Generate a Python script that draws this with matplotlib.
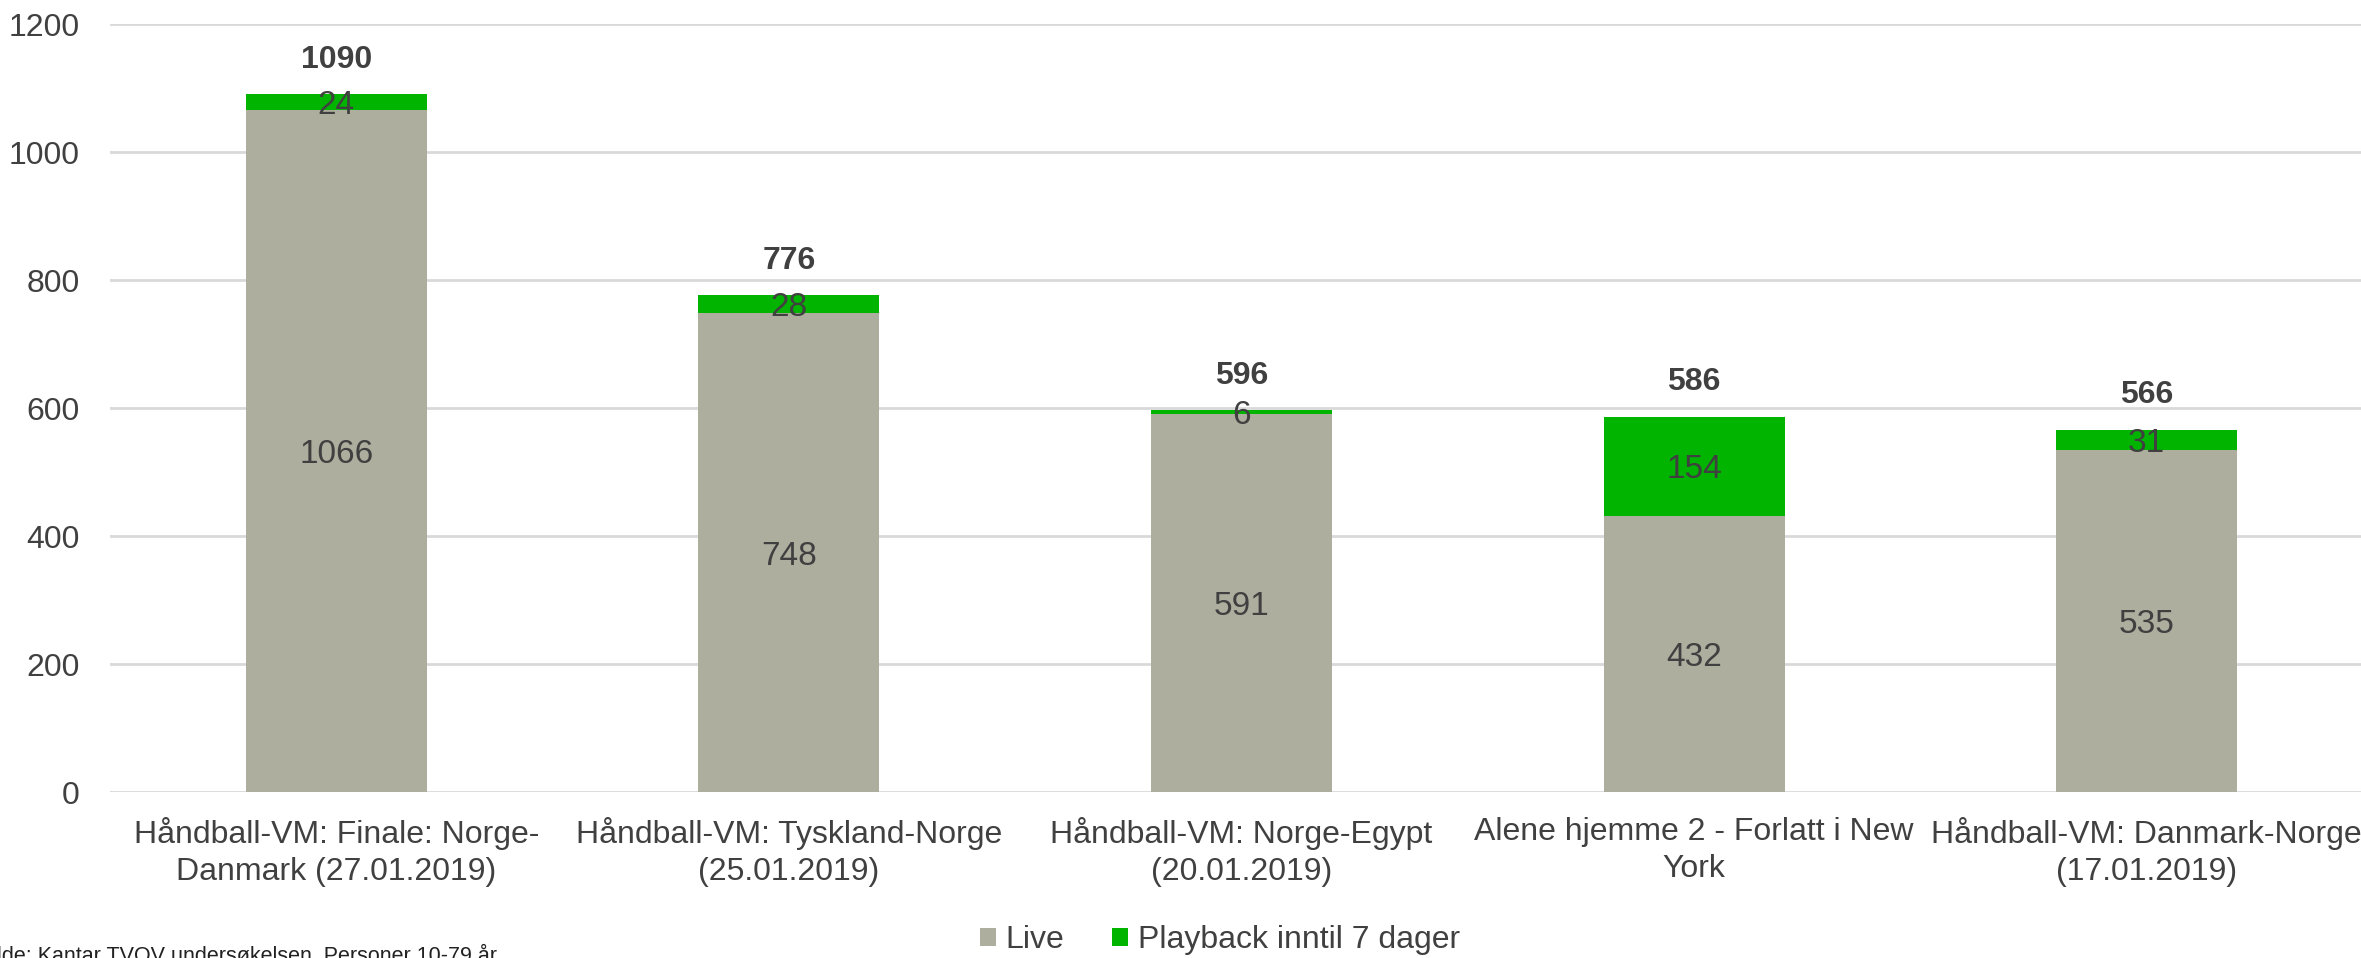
"""Stacked bar chart: Live + playback viewers."""
import matplotlib
matplotlib.use("Agg")
import matplotlib.pyplot as plt
import numpy as np

categories = [
    "Håndball-VM: Finale: Norge-\nDanmark (27.01.2019)",
    "Håndball-VM: Tyskland-Norge\n(25.01.2019)",
    "Håndball-VM: Norge-Egypt\n(20.01.2019)",
    "Alene hjemme 2 - Forlatt i New\nYork",
    "Håndball-VM: Danmark-Norge\n(17.01.2019)",
]
live = [1066, 748, 591, 432, 535]
playback = [24, 28, 6, 154, 31]
totals = [1090, 776, 596, 586, 566]
yticks = [0, 200, 400, 600, 800, 1000, 1200]

GRAY = "#ADAE9E"
GREEN = "#00B400"
TEXT = "#404040"

plt.rcParams["font.family"] = ["Liberation Sans", "DejaVu Sans"]

W, H = 2361, 958
fig = plt.figure(figsize=(W / 100, H / 100), dpi=100)
# axes in pixel terms: left 110, right 2373, y0 at 792, y1200 at 24
ax = fig.add_axes([110 / W, (H - 792) / H, (2373 - 110) / W, (792 - 24) / H])

x = np.arange(len(categories))
b1 = ax.bar(x, live, width=0.4, color=GRAY, label="Live", zorder=3)
b2 = ax.bar(x, playback, width=0.4, bottom=live, color=GREEN,
            label="Playback inntil 7 dager", zorder=3)

for i in range(len(x)):
    ax.text(x[i], live[i] / 2, str(live[i]), ha="center", va="center_baseline",
            fontsize=24, color=TEXT, zorder=4)
    ax.text(x[i], live[i] + playback[i] / 2, str(playback[i]), ha="center",
            va="center_baseline", fontsize=24, color=TEXT, zorder=4)
    ax.annotate(str(totals[i]), (x[i], totals[i]), xytext=(0, 25),
                textcoords="offset points", ha="center", va="center",
                fontsize=23, fontweight="bold", color=TEXT)

ax.set_xlim(-0.5, len(x) - 0.5)
ax.set_ylim(0, 1200)
ax.set_yticks(yticks)
ax.set_xticks(x)
ax.set_xticklabels(categories, fontsize=23, color=TEXT, linespacing=1.32)
ax.tick_params(axis="y", labelsize=23, labelcolor=TEXT, length=0, pad=22)
ax.tick_params(axis="x", length=0, pad=18)
ax.grid(axis="y", color="#D9D9D9", linewidth=2, zorder=0)
for s in ax.spines.values():
    s.set_visible(False)

fig.legend(handles=[b1, b2], loc="center", bbox_to_anchor=(1220 / W, 1 - 940 / H),
           ncol=2, frameon=False, fontsize=23, labelcolor=TEXT,
           handlelength=0.5, handleheight=0.5, handletextpad=0.3,
           columnspacing=1.5)

fig.text(-22 / W, 1 - 962 / H, "Kilde: Kantar TVOV undersøkelsen, Personer 10-79 år",
         fontsize=15.5, color="#222222", ha="left", va="baseline")

fig.savefig("out.png", dpi=100)
